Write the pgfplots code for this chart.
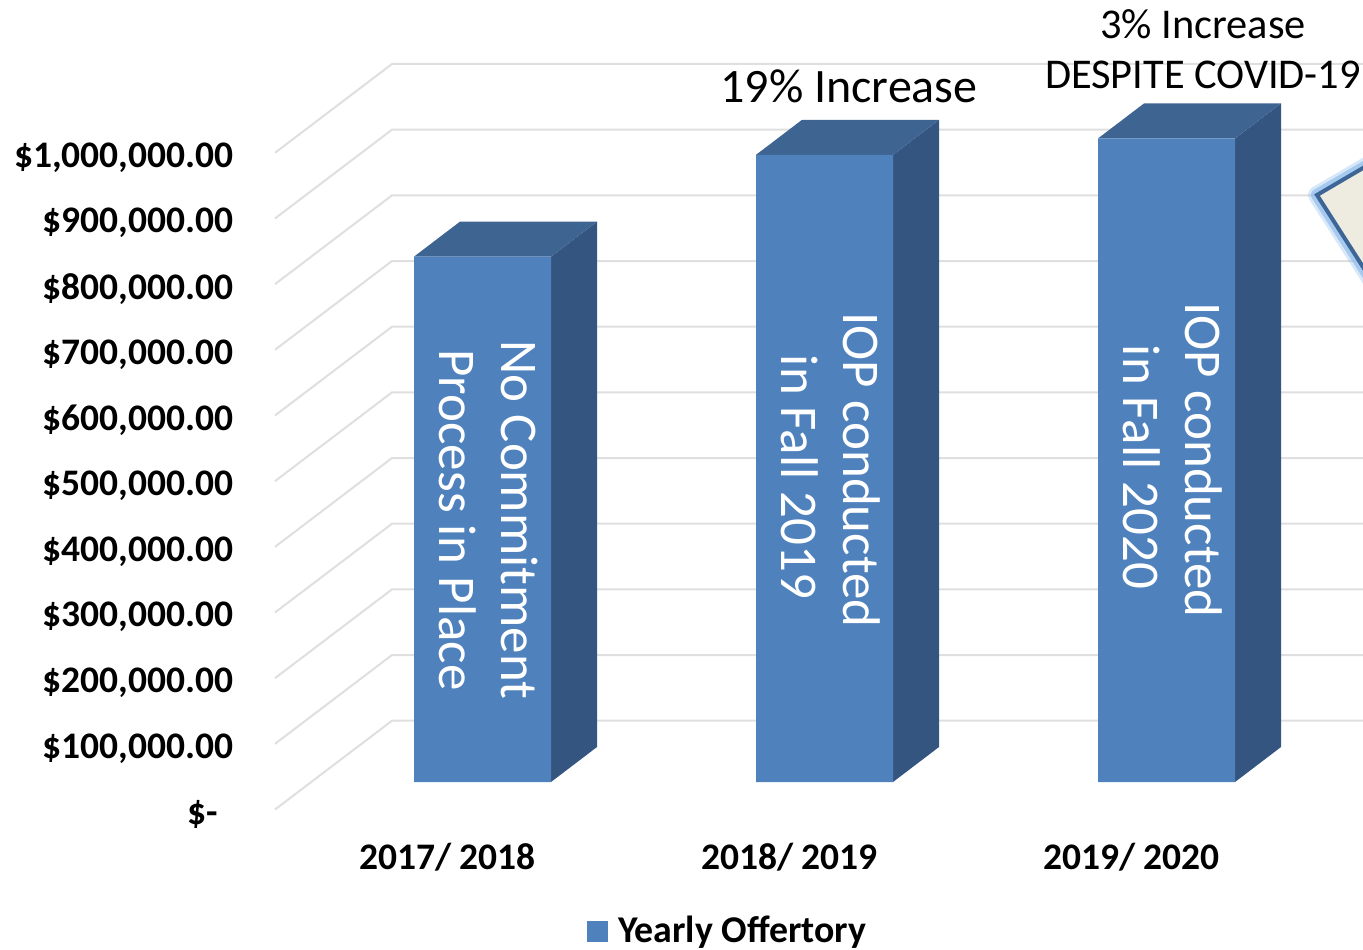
\documentclass[border=0pt]{standalone}
\usepackage{fontspec}
\setmainfont{Carlito}
\usepackage{pgfplots}
\pgfplotsset{compat=1.18}
\definecolor{front}{HTML}{4F81BD}
\definecolor{topf}{HTML}{3E6491}
\definecolor{sidef}{HTML}{34557F}
\definecolor{gridc}{HTML}{DFDFDF}
\definecolor{callout}{HTML}{EEECE1}
\definecolor{calloutb}{HTML}{3D6595}
\definecolor{glow}{HTML}{8FBCEB}
\begin{document}
\begin{tikzpicture}
\useasboundingbox (0,0) rectangle (681.5pt,474.5pt);
\begin{axis}[
  at={(120pt,55.5pt)}, anchor=south west,
  scale only axis, width=561.5pt, height=419pt,
  xmin=-0.70906, xmax=2.57456, ymin=-85275, ymax=1190805,
  axis line style={draw=none}, tick style={draw=none},
  scaled y ticks=false,
  xtick={0,1,2}, xticklabels={2017/ 2018,2018/ 2019,2019/ 2020},
  ytick={0,100000,200000,300000,400000,500000,600000,700000,800000,900000,1000000},
  yticklabels={{\$-\hspace*{8pt}},{\$100,000.00},{\$200,000.00},{\$300,000.00},{\$400,000.00},{\$500,000.00},{\$600,000.00},{\$700,000.00},{\$800,000.00},{\$900,000.00},{\$1,000,000.00}},
  yticklabel style={font=\fontsize{18.75}{20}\selectfont\bfseries, yshift=-16pt, xshift=-3pt, inner sep=0pt},
  xticklabel style={font=\fontsize{18.75}{20}\selectfont\bfseries, xshift=-17.5pt, yshift=-2.5pt, inner sep=0pt},
  legend image code/.code={\fill[front] (0pt,-5.25pt) rectangle (10.5pt,5.25pt);},
  legend style={draw=none, fill=none, at={(0.309,-0.111)}, anchor=west, inner sep=0pt, outer sep=0pt, font=\fontsize{18.9}{20}\selectfont\bfseries, legend cell align=left},
  clip=true,
]
% gridlines
\addplot[gridc, line width=1pt, forget plot] coordinates {(-0.60673,-41876)(-0.26462,93345)(2.6,93345)};
\addplot[gridc, line width=1pt, forget plot] coordinates {(-0.60673,58124)(-0.26462,193345)(2.6,193345)};
\addplot[gridc, line width=1pt, forget plot] coordinates {(-0.60673,158124)(-0.26462,293345)(2.6,293345)};
\addplot[gridc, line width=1pt, forget plot] coordinates {(-0.60673,258124)(-0.26462,393345)(2.6,393345)};
\addplot[gridc, line width=1pt, forget plot] coordinates {(-0.60673,358124)(-0.26462,493345)(2.6,493345)};
\addplot[gridc, line width=1pt, forget plot] coordinates {(-0.60673,458124)(-0.26462,593345)(2.6,593345)};
\addplot[gridc, line width=1pt, forget plot] coordinates {(-0.60673,558124)(-0.26462,693345)(2.6,693345)};
\addplot[gridc, line width=1pt, forget plot] coordinates {(-0.60673,658124)(-0.26462,793345)(2.6,793345)};
\addplot[gridc, line width=1pt, forget plot] coordinates {(-0.60673,758124)(-0.26462,893345)(2.6,893345)};
\addplot[gridc, line width=1pt, forget plot] coordinates {(-0.60673,858124)(-0.26462,993345)(2.6,993345)};
\addplot[gridc, line width=1pt, forget plot] coordinates {(-0.60673,958124)(-0.26462,1093345)(2.6,1093345)};
% side faces
\addplot[fill=sidef, draw=none, forget plot] coordinates {(0.2003,0)(0.3348,53296)(0.3348,853296)(0.2003,800000)} --cycle;
\addplot[fill=sidef, draw=none, forget plot] coordinates {(1.2003,0)(1.3348,53296)(1.3348,1008296)(1.2003,955000)} --cycle;
\addplot[fill=sidef, draw=none, forget plot] coordinates {(2.2003,0)(2.3348,53296)(2.3348,1033296)(2.2003,980000)} --cycle;
% top faces
\addplot[fill=topf, draw=none, forget plot] coordinates {(-0.2003,800000)(0.2003,800000)(0.3348,853296)(-0.0658,853296)} --cycle;
\addplot[fill=topf, draw=none, forget plot] coordinates {(0.7997,955000)(1.2003,955000)(1.3348,1008296)(0.9342,1008296)} --cycle;
\addplot[fill=topf, draw=none, forget plot] coordinates {(1.7997,980000)(2.2003,980000)(2.3348,1033296)(1.9342,1033296)} --cycle;
% front faces
\addplot[ybar, bar width=68.5pt, fill=front, draw=none] coordinates {(0,800000)(1,955000)(2,980000)};
\addlegendentry{\hspace{3pt}Yearly Offertory}
% callout
\addplot[fill=callout, draw=glow, opacity=0.35, line width=9pt, line join=round, forget plot] coordinates {(2.4401,893860)(2.709,976089)(2.709,674583)} --cycle;
\addplot[fill=callout, draw=glow, opacity=0.7, line width=6pt, line join=round, forget plot] coordinates {(2.4401,893860)(2.709,976089)(2.709,674583)} --cycle;
\addplot[fill=callout, draw=calloutb, line width=2pt, line join=miter, forget plot] coordinates {(2.4401,893860)(2.709,976089)(2.709,674583)} --cycle;
% annotations
\node[rotate=-90, align=center, text=white, font=\fontsize{26.5}{31}\selectfont, inner sep=0pt] at (axis cs:0.0175,398962) {No Commitment\\Process in Place};
\node[rotate=-90, align=center, text=white, font=\fontsize{26.5}{31}\selectfont, inner sep=0pt] at (axis cs:1.019,475100) {IOP conducted\\\hspace*{7pt}in Fall 2019};
\node[rotate=-90, align=center, text=white, font=\fontsize{26.5}{31}\selectfont, inner sep=0pt] at (axis cs:2.019,490330) {IOP conducted\\\hspace*{7pt}in Fall 2020};
\node[font=\fontsize{24}{26}\selectfont, inner sep=0pt] at (axis cs:1.0716,1059800) {19\% Increase};
\node[font=\fontsize{21.2}{23}\selectfont, inner sep=0pt] at (axis cs:2.1067,1154250) {3\% Increase};
\node[font=\fontsize{21.2}{23}\selectfont, inner sep=0pt] at (axis cs:2.1067,1076590) {DESPITE COVID-19};
\end{axis}
\end{tikzpicture}
\end{document}
